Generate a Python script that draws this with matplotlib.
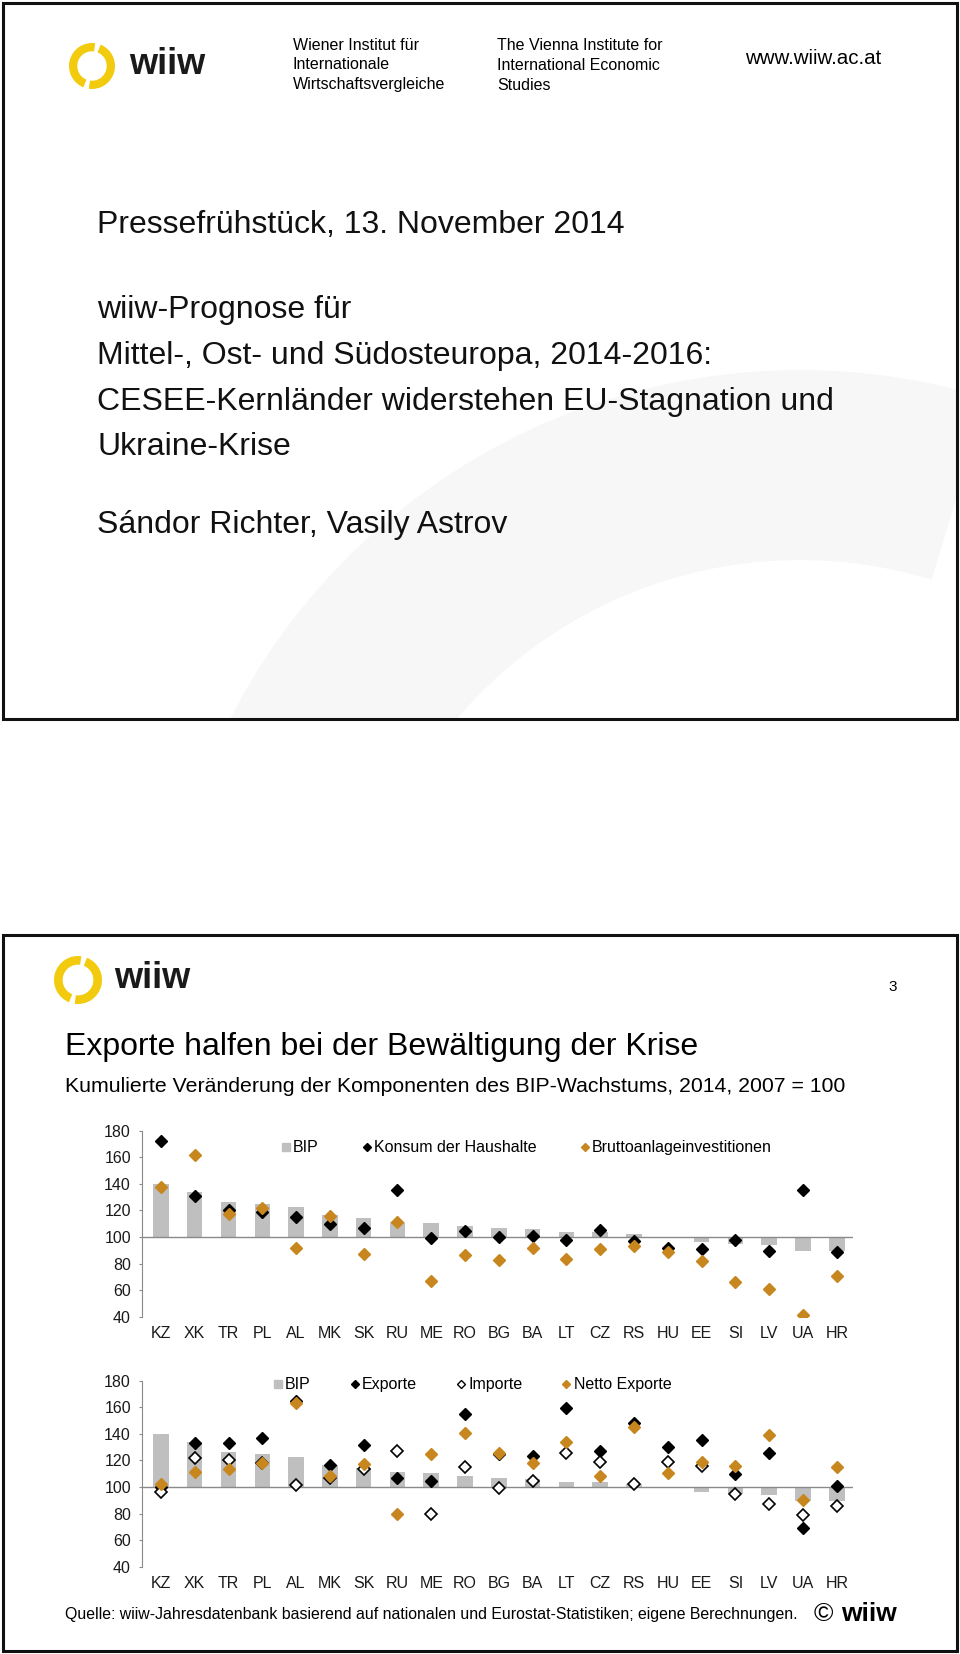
"""
wiiw Pressefruehstueck Nov 2014 - title slide + slide 3 (Exporte halfen bei der Bewaeltigung der Krise)
"""

import numpy as np
import matplotlib.pyplot as plt
from matplotlib.patches import Rectangle, Wedge
from matplotlib.lines import Line2D

plt.rcParams['font.family'] = ['Liberation Sans', 'DejaVu Sans']

# data: 2014, 2007 = 100
countries = ['KZ', 'XK', 'TR', 'PL', 'AL', 'MK', 'SK', 'RU', 'ME', 'RO', 'BG',
             'BA', 'LT', 'CZ', 'RS', 'HU', 'EE', 'SI', 'LV', 'UA', 'HR']
bip = [140, 134, 126, 124.5, 122.5, 116.5, 114, 111.5, 110.5, 108.5, 106.5,
       106, 104, 103.5, 102.5, 99, 96.5, 95, 94, 89.5, 89.5]
konsum = [172, 131, 120, 119, 115, 110, 106.5, 135, 99, 104.5, 100,
          100.5, 98, 105, 97, 91.5, 91, 97.5, 89.5, 135, 88.5]
brutto = [137.5, 161.5, 117, 122, 91.5, 115.5, 87, 111, 67, 86.5, 82.5,
          92, 83.5, 91, 93.5, 88.5, 82, 66, 60.5, 41, 71]
exporte = [100, 133, 133, 137, 165, 116.5, 131.5, 106.5, 104.5, 155, 125,
           123.5, 159.5, 127, 148.5, 130, 135.5, 109.5, 125.5, 69, 100.5]
importe = [96.5, 121.5, 120, 118, 101.5, 107, 113.5, 127, 79.5, 115, 99.5,
           104.5, 125.5, 118.5, 102.5, 118.5, 116, 95, 87, 79, 85.5]
netto = [102.5, 111.5, 113.5, 118, 163.5, 108, 117, 79.5, 124.5, 140.5, 125.5,
         118, 134, 108, 145, 110.5, 119, 115.5, 139, 90.5, 115]

W, H = 960, 1654
YELLOW = '#f2cb0f'
BAR = '#bfbfbf'
AXIS = '#8a8a8a'
ORANGE = '#c8871e'
FS = 11.5


def draw_logo(ax, cx, cy, r, tx, ty, fs):
    # two yellow arc halves with gaps, y axis is inverted
    ax.add_patch(Wedge((cx, cy), r, -68, 98, width=r * 0.36, color=YELLOW, lw=0))
    ax.add_patch(Wedge((cx, cy), r, 112, 278, width=r * 0.36, color=YELLOW, lw=0))
    ax.text(tx, ty, 'wiiw', fontsize=fs, fontweight='bold', color='#1a1a1a',
            va='center', ha='left')


def chart(rect, series, handles, labels, anchor, colspace):
    ax = fig.add_axes(rect)
    ax.patch.set_alpha(0)
    x = np.arange(len(countries))
    ax.bar(x, np.array(bip) - 100, bottom=100, width=0.46, color=BAR, zorder=1)
    ax.axhline(100, color=AXIS, lw=1, zorder=1.5)
    for i, (vals, kw) in enumerate(series):
        ax.plot(x, vals, ls='none', marker='D', ms=6.5, zorder=3 + i, **kw)
    ax.set_xlim(-0.56, 20.48)
    ax.set_ylim(40, 180)
    ax.set_yticks(range(40, 181, 20))
    ax.set_xticks(x)
    ax.set_xticklabels(countries)
    ax.tick_params(axis='x', length=0, pad=7, labelsize=FS, labelcolor='#1a1a1a')
    ax.tick_params(axis='y', length=2.5, width=0.8, color=AXIS, pad=5.5,
                   labelsize=FS, labelcolor='#1a1a1a')
    for s in ['top', 'right', 'bottom']:
        ax.spines[s].set_visible(False)
    ax.spines['left'].set_color(AXIS)
    ax.legend(handles, labels, loc='center left', bbox_to_anchor=anchor,
              ncol=len(labels), frameon=False, fontsize=FS, borderpad=0,
              borderaxespad=0, handlelength=0.5, handletextpad=0.2,
              columnspacing=colspace)
    return ax


fig = plt.figure(figsize=(W / 100, H / 100), dpi=100)
bg = fig.add_axes([0, 0, 1, 1])
bg.set_xlim(0, W)
bg.set_ylim(H, 0)
bg.axis('off')

# ---------------- title slide ----------------
slide1 = Rectangle((3, 3), 954, 716, fill=False, ec='#111111', lw=2.2, zorder=5)
bg.add_patch(slide1)
clip1 = Rectangle((3, 3), 954, 716, fill=False, lw=0, transform=bg.transData)
wm = Wedge((800, 1010), 640, 203, 287, width=190, color='#f7f7f7', lw=0, zorder=0)
bg.add_patch(wm)
wm.set_clip_path(clip1)

draw_logo(bg, 92, 66, 23, 129, 64, 26)
for i, s in enumerate(['Wiener Institut für', 'Internationale', 'Wirtschaftsvergleiche']):
    bg.text(293, 45 + 19.5 * i, s, fontsize=11.5, va='center')
for i, s in enumerate(['The Vienna Institute for', 'International Economic', 'Studies']):
    bg.text(497, 46 + 19.5 * i, s, fontsize=11.5, va='center')
bg.text(745, 58, 'www.wiiw.ac.at', fontsize=14.8, va='center')

title_lines = [(225, 'Pressefrühstück, 13. November 2014'),
               (310, 'wiiw-Prognose für'),
               (356, 'Mittel-, Ost- und Südosteuropa, 2014-2016:'),
               (402, 'CESEE-Kernländer widerstehen EU-Stagnation und'),
               (447, 'Ukraine-Krise'),
               (525, 'Sándor Richter, Vasily Astrov')]
for y, s in title_lines:
    bg.text(97, y, s, fontsize=23, va='center', color='#111111')

# ---------------- slide 3 ----------------
bg.add_patch(Rectangle((3, 935), 954, 716, fill=False, ec='#111111', lw=2.2, zorder=5))
draw_logo(bg, 78, 980, 24, 114, 979, 26)
bg.text(893, 987, '3', fontsize=11, va='center', ha='center')
bg.text(65, 1047, 'Exporte halfen bei der Bewältigung der Krise', fontsize=23, va='center')
bg.text(65, 1086, 'Kumulierte Veränderung der Komponenten des BIP-Wachstums, 2014, 2007 = 100',
        fontsize=15.3, va='center')
bg.text(65, 1615, 'Quelle: wiiw-Jahresdatenbank basierend auf nationalen und '
        'Eurostat-Statistiken; eigene Berechnungen.', fontsize=11.4, va='center')
bg.text(814, 1614, '©', fontsize=19, va='center')
bg.text(841, 1614, 'wiiw', fontsize=19, fontweight='bold', va='center')

left = 142 / W
width = 711 / W
height = 186 / H

sq = dict(ls='none', marker='s', ms=6, color=BAR)
dm = dict(ls='none', marker='D', ms=4.5)

chart([left, 1 - 1316.7 / H, width, height],
      [(konsum, dict(color='black')),
       (brutto, dict(color=ORANGE))],
      [Line2D([], [], **sq), Line2D([], [], color='black', **dm),
       Line2D([], [], color=ORANGE, **dm)],
      ['BIP', 'Konsum der Haushalte', 'Bruttoanlageinvestitionen'],
      ((282 - 142) / 711, 0.909), 2.75)

chart([left, 1 - 1566.7 / H, width, height],
      [(exporte, dict(color='black')),
       (importe, dict(mfc='white', mec='black', mew=1.2)),
       (netto, dict(color=ORANGE))],
      [Line2D([], [], **sq), Line2D([], [], color='black', **dm),
       Line2D([], [], mfc='white', mec='black', mew=1, **dm),
       Line2D([], [], color=ORANGE, **dm)],
      ['BIP', 'Exporte', 'Importe', 'Netto Exporte'],
      ((274 - 142) / 711, 0.977), 2.5)

plt.savefig('out.png', dpi=100)
plt.close()
